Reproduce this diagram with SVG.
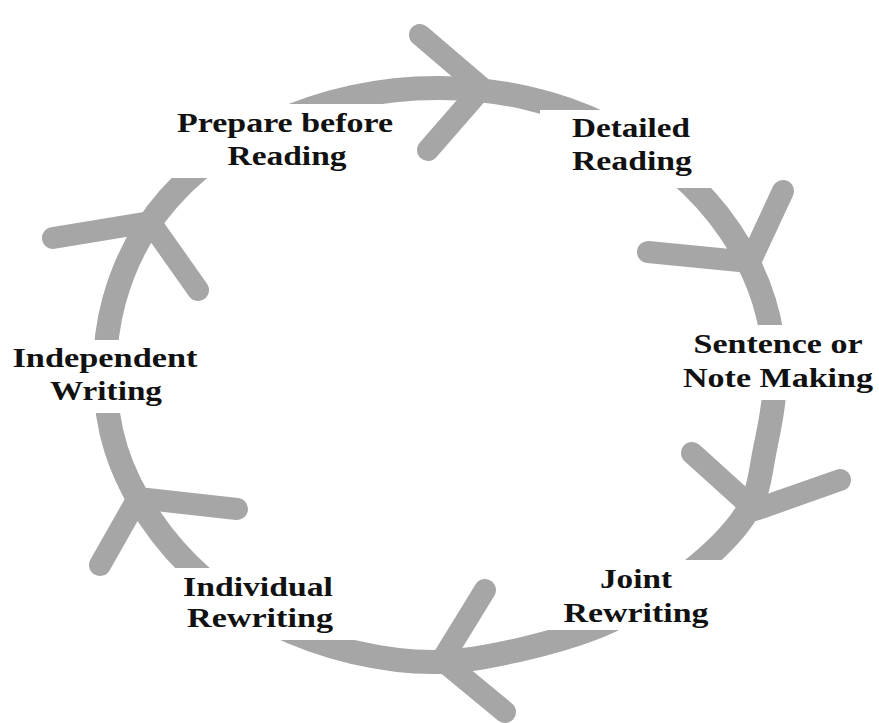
<svg xmlns="http://www.w3.org/2000/svg" width="879" height="723" viewBox="0 0 879 723">
<style>
.ring{fill:none;stroke:#a6a6a6;stroke-width:24}
.arm{fill:none;stroke:#a6a6a6;stroke-width:22;stroke-linecap:round;stroke-linejoin:round}
.lbl{font-family:"Liberation Serif","Times New Roman",serif;font-weight:bold;font-size:28px;fill:#111;text-anchor:middle}
</style>
<defs>
<mask id="gaps" maskUnits="userSpaceOnUse" x="0" y="0" width="879" height="723">
<rect x="0" y="0" width="879" height="723" fill="#fff"/>
<rect x="150" y="104" width="290" height="74" fill="#000"/>
<rect x="540" y="110" width="220" height="78" fill="#000"/>
<rect x="700" y="325" width="179" height="75" fill="#000"/>
<rect x="0" y="340" width="220" height="73" fill="#000"/>
<rect x="540" y="560" width="220" height="70" fill="#000"/>
<rect x="150" y="568" width="230" height="72" fill="#000"/>
</mask>
</defs>
<rect width="879" height="723" fill="#fff"/>
<g id="connectors">
<path class="ring" mask="url(#gaps)" d="M775,375 C775.2,399.7 769.7,426.2 765,449 C760.3,471.8 759.8,491.3 747,512 C734.2,532.7 710.8,555.2 688,573 C665.2,591.2 636.8,608.5 610,621 C583.2,633.5 555.3,641.2 527,648 C498.7,654.8 469,661.3 440,662 C411,662.7 381,658.5 353,652 C325,645.5 297,635.3 272,623 C247,610.7 223.3,595.5 203,578 C182.7,560.5 164.5,539.5 150,518 C135.5,496.5 123.5,472.8 116,449 C108.5,425.2 105.3,399.7 105,375 C104.7,350.3 107.3,325.2 114,301 C120.7,276.8 131,251.8 145,230 C159,208.2 177.2,187.5 198,170 C218.8,152.5 244.2,137.2 270,125 C295.8,112.8 324.7,103.2 353,97 C381.3,90.8 411,87.8 440,88 C469,88.2 499.2,91.7 527,98 C554.8,104.3 582,113.7 607,126 C632,138.3 656.5,154.5 677,172 C697.5,189.5 715.5,209.5 730,231 C744.5,252.5 756.5,277 764,301 C771.5,325 774.8,350.3 775,375 Z"/>
<polyline class="arm" points="420,35 482,88 428,150"/>
<polyline class="arm" points="783,191 750,262 648,252"/>
<polyline class="arm" points="692,453 755,510 840,480"/>
<polyline class="arm" points="485,590 442,660 505,712"/>
<polyline class="arm" points="237,509 138,498 100,565"/>
<polyline class="arm" points="53,238 150,222 198,290"/>
</g>
<g id="node-prepare">
<text class="lbl" x="285" y="132" textLength="216" lengthAdjust="spacingAndGlyphs">Prepare before</text>
<text class="lbl" x="287" y="165" textLength="119" lengthAdjust="spacingAndGlyphs">Reading</text>
</g>
<g id="node-detailed">
<text class="lbl" x="631" y="137" textLength="118" lengthAdjust="spacingAndGlyphs">Detailed</text>
<text class="lbl" x="632" y="170" textLength="120" lengthAdjust="spacingAndGlyphs">Reading</text>
</g>
<g id="node-sentence">
<text class="lbl" x="778" y="353" textLength="169" lengthAdjust="spacingAndGlyphs">Sentence or</text>
<text class="lbl" x="778" y="387" textLength="190" lengthAdjust="spacingAndGlyphs">Note Making</text>
</g>
<g id="node-joint">
<text class="lbl" x="636" y="588" textLength="72" lengthAdjust="spacingAndGlyphs">Joint</text>
<text class="lbl" x="636" y="622" textLength="145" lengthAdjust="spacingAndGlyphs">Rewriting</text>
</g>
<g id="node-individual">
<text class="lbl" x="258" y="596" textLength="150" lengthAdjust="spacingAndGlyphs">Individual</text>
<text class="lbl" x="260" y="627" textLength="146" lengthAdjust="spacingAndGlyphs">Rewriting</text>
</g>
<g id="node-independent">
<text class="lbl" x="105" y="367" textLength="185" lengthAdjust="spacingAndGlyphs">Independent</text>
<text class="lbl" x="106" y="400" textLength="112" lengthAdjust="spacingAndGlyphs">Writing</text>
</g>
</svg>
